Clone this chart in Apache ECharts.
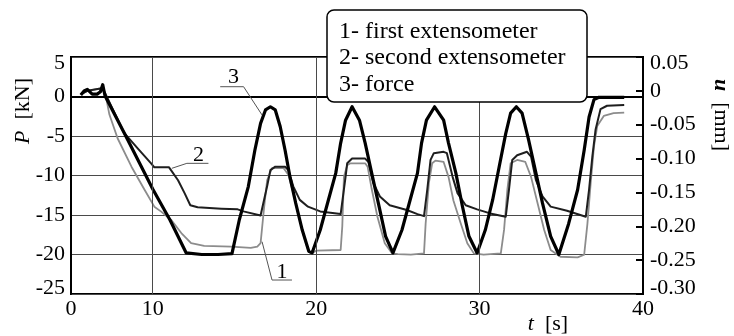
<!DOCTYPE html>
<html><head><meta charset="utf-8">
<script src="https://cdn.jsdelivr.net/npm/echarts@6/dist/echarts.min.js"></script>
<style>html,body{margin:0;padding:0;background:#fff}#c{width:734px;height:336px}</style>
</head><body><div id="c"></div>
<script>
// ---- data ----
const forceT = [5.6,5.8,6.0,6.3,6.6,6.8,6.94,7.08,8.25,10.0,11.05,12.05,13.0,14.0,14.85,15.3,15.85,16.25,16.6,16.9,17.2,17.5,17.8,18.1,18.4,18.75,19.15,19.55,19.75,20.25,20.75,21.2,21.5,21.8,22.2,22.65,23.0,23.4,23.85,24.25,24.7,25.25,25.75,26.2,26.45,26.75,27.25,27.8,28.1,28.55,28.95,29.35,29.85,30.35,30.8,31.2,31.6,31.9,32.25,32.6,33.0,33.45,33.85,34.35,34.85,35.45,36.0,36.4,36.7,37.0,37.3,38.85];
const forceP = [0.2,0.7,0.9,0.3,0.3,0.6,1.5,0.1,-4.6,-11.7,-15.6,-19.8,-20.0,-20.0,-19.9,-15.6,-11.4,-6.8,-3.4,-1.7,-1.3,-1.7,-3.8,-6.8,-10.2,-13.5,-16.9,-19.6,-19.8,-16.9,-13.1,-9.7,-5.9,-3.0,-1.3,-3.0,-5.9,-9.7,-13.9,-17.7,-19.8,-16.9,-13.1,-9.7,-5.9,-3.0,-1.3,-3.0,-5.9,-9.7,-13.9,-17.7,-19.8,-16.9,-13.1,-8.9,-4.7,-2.1,-1.3,-2.1,-5.5,-9.7,-13.5,-17.7,-20.0,-16.1,-11.8,-6.8,-2.6,-0.4,-0.1,-0.1];

const ext2T = [5.6,6.0,6.9,7.1,8.25,9.08,9.9,10.1,11.0,11.55,11.95,12.3,12.75,14.2,15.2,15.55,16.6,17.0,17.2,17.5,18.1,18.3,18.6,19.0,19.5,20.25,21.5,21.8,21.9,22.2,23.0,23.2,23.5,23.9,24.5,25.55,26.2,26.6,26.8,27.0,27.2,27.8,28.0,28.35,28.65,29.15,29.85,30.65,31.6,31.8,32.0,32.3,32.9,33.15,33.45,33.85,34.35,35.35,36.5,36.7,36.9,37.1,37.4,37.8,38.85];
const ext2U = [-0.005,0.0,0.004,-0.004,-0.062,-0.085,-0.107,-0.113,-0.113,-0.132,-0.151,-0.169,-0.172,-0.174,-0.175,-0.178,-0.184,-0.141,-0.117,-0.112,-0.112,-0.117,-0.141,-0.161,-0.171,-0.178,-0.182,-0.127,-0.107,-0.100,-0.100,-0.105,-0.136,-0.156,-0.169,-0.176,-0.182,-0.185,-0.146,-0.102,-0.092,-0.090,-0.092,-0.127,-0.151,-0.169,-0.175,-0.181,-0.186,-0.146,-0.102,-0.095,-0.090,-0.097,-0.132,-0.156,-0.171,-0.177,-0.186,-0.146,-0.097,-0.057,-0.027,-0.022,-0.021];

const ext1T = [5.6,6.0,6.9,7.1,7.35,7.85,8.7,9.5,10.1,10.5,11.15,11.75,12.35,13.15,14.8,16.0,16.4,16.6,16.8,17.0,17.3,18.0,18.3,18.6,18.95,19.25,19.55,19.75,20.0,21.5,21.6,21.7,21.9,22.1,23.0,23.15,23.4,23.75,24.2,24.65,25.0,25.8,26.6,26.7,26.9,27.1,27.3,27.8,28.1,28.4,28.85,29.25,29.65,30.25,31.3,31.5,31.7,31.9,32.3,32.8,33.15,33.55,33.95,34.35,34.95,36.0,36.4,36.6,36.8,37.0,37.2,37.6,38.2,38.85];
const ext1U = [-0.005,0.0,0.004,-0.004,-0.035,-0.070,-0.112,-0.146,-0.171,-0.178,-0.191,-0.210,-0.225,-0.229,-0.230,-0.232,-0.230,-0.225,-0.176,-0.132,-0.114,-0.114,-0.124,-0.151,-0.186,-0.215,-0.238,-0.240,-0.236,-0.235,-0.200,-0.127,-0.110,-0.107,-0.107,-0.112,-0.145,-0.186,-0.225,-0.240,-0.241,-0.242,-0.240,-0.196,-0.136,-0.107,-0.103,-0.105,-0.127,-0.162,-0.196,-0.225,-0.240,-0.242,-0.240,-0.205,-0.146,-0.107,-0.102,-0.105,-0.127,-0.166,-0.205,-0.235,-0.245,-0.246,-0.242,-0.196,-0.136,-0.082,-0.052,-0.037,-0.033,-0.032];

const xTickLabels = {5:'0',10:'10',20:'20',30:'30',40:'40'};
const xGridValues = [10,20,30];
const legendLines = ['1- first extensometer','2- second extensometer','3- force'];
const annoText = ['3','2','1'];
const annoLabelPos = [[14.94,2.5],[12.8,-7.4],[17.91,-22.18]];
const annoLeaders = [
  [[14.13,1.24],[15.56,1.24],[16.69,-2.34]],
  [[11.17,-9.09],[12.09,-8.46],[13.41,-8.46]],
  [[16.69,-18.38],[17.3,-23.23],[18.52,-23.23]]
];

// ---- chart ----
const FONT = 'Liberation Serif';
const pairs = (a,b) => a.map((v,i)=>[v,b[i]]);
const chart = echarts.init(document.getElementById('c'), null, {renderer:'canvas'});
const lab = {color:'#000', fontFamily:FONT, fontSize:22};
const edgeRich = {
  hi:{fontFamily:FONT,fontSize:22,color:'#000',padding:[12,0,0,0]},
  lo:{fontFamily:FONT,fontSize:22,color:'#000',padding:[0,0,12,0]}
};
const wrapEdge = (txt,v,min,max)=> Math.abs(v-max)<1e-9 ? '{hi|'+txt+'}' : (Math.abs(v-min)<1e-9 ? '{lo|'+txt+'}' : txt);
chart.setOption({
  animation:false,
  backgroundColor:'#fff',
  grid:{left:71,right:91,top:57,bottom:42,show:true,borderColor:'#000',borderWidth:2,backgroundColor:'transparent'},
  xAxis:{type:'value',min:5,max:40,interval:5,
    axisLine:{lineStyle:{color:'#000',width:2}},axisTick:{show:false},splitLine:{show:false},
    axisLabel:Object.assign({margin:4,formatter:v=>xTickLabels[Math.round(v)]||''},lab)},
  yAxis:[
    {type:'value',min:-25,max:5,interval:5,position:'left',
      axisLine:{show:true,lineStyle:{color:'#000',width:2}},axisTick:{show:false},
      splitLine:{show:true,lineStyle:{color:'#4a4a4a',width:1}},
      axisLabel:Object.assign({margin:6,rich:edgeRich,formatter:v=>wrapEdge(String(Math.round(v)),v,-25,5)},lab)},
    {type:'value',min:-0.3,max:0.05,interval:0.05,position:'right',
      axisLine:{show:true,lineStyle:{color:'#000',width:2}},
      axisTick:{show:true,inside:true,length:7,lineStyle:{color:'#000',width:2}},
      splitLine:{show:false},
      axisLabel:Object.assign({margin:7,rich:edgeRich,formatter:v=>wrapEdge(Math.abs(v)<1e-9?'0':v.toFixed(2),v,-0.3,0.05)},lab)}
  ],
  series:[
    {name:'1- first extensometer',type:'line',yAxisIndex:1,data:pairs(ext1T,ext1U),showSymbol:false,symbol:'none',z:2,
      lineStyle:{color:'#8c8c8c',width:1.8,join:'round'},
      markLine:{silent:true,symbol:'none',label:{show:false},lineStyle:{color:'#4a4a4a',width:1,type:'solid'},
        data:xGridValues.map(v=>({xAxis:v}))}},
    {name:'2- second extensometer',type:'line',yAxisIndex:1,data:pairs(ext2T,ext2U),showSymbol:false,symbol:'none',z:3,
      lineStyle:{color:'#1e1e1e',width:2,join:'round'}},
    {name:'3- force',type:'line',yAxisIndex:0,data:pairs(forceT,forceP),showSymbol:false,symbol:'none',z:4,
      lineStyle:{color:'#000',width:3.2,join:'round'}}
  ]
});

const px = (p)=>chart.convertToPixel({gridIndex:0},p);
const graphics = [];
annoLeaders.forEach((pts,i)=>{
  graphics.push({type:'polyline',z:50,silent:true,shape:{points:pts.map(px)},style:{stroke:'#555',lineWidth:1,fill:null}});
  const p = px(annoLabelPos[i]);
  graphics.push({type:'text',z:51,x:p[0],y:p[1],silent:true,style:{text:annoText[i],fill:'#000',fontFamily:FONT,fontSize:22,align:'center',verticalAlign:'middle',textAlign:'center',textVerticalAlign:'middle'}});
});
// legend box
graphics.push({type:'rect',z:60,silent:true,shape:{x:327,y:10,width:260,height:92,r:7},style:{fill:'#fff',stroke:'#000',lineWidth:1.5}});
legendLines.forEach((t,i)=>{
  graphics.push({type:'text',z:61,x:339,y:31.5+i*26.5,silent:true,style:{text:t,fill:'#000',fontFamily:FONT,fontSize:24,align:'left',verticalAlign:'middle',textAlign:'left',textVerticalAlign:'middle'}});
});
// axis names
graphics.push({type:'text',z:61,x:23,y:111,rotation:Math.PI/2,silent:true,
  style:{text:'{i|P}  [kN]',fill:'#000',fontFamily:FONT,fontSize:22,align:'center',verticalAlign:'middle',textAlign:'center',textVerticalAlign:'middle',
    rich:{i:{fontStyle:'italic',fontFamily:FONT,fontSize:22}}}});
graphics.push({type:'text',z:61,x:721,y:115,rotation:-Math.PI/2,silent:true,
  style:{text:'{i|u}  [mm]',fill:'#000',fontFamily:FONT,fontSize:22,align:'center',verticalAlign:'middle',textAlign:'center',textVerticalAlign:'middle',
    rich:{i:{fontStyle:'italic',fontWeight:'bold',fontFamily:FONT,fontSize:22}}}});
graphics.push({type:'text',z:61,x:548,y:324,silent:true,
  style:{text:'{i|t}  [s]',fill:'#000',fontFamily:FONT,fontSize:22,align:'center',verticalAlign:'middle',textAlign:'center',textVerticalAlign:'middle',
    rich:{i:{fontStyle:'italic',fontFamily:FONT,fontSize:22}}}});
chart.setOption({graphic:{elements:graphics}});
</script>
</body></html>
